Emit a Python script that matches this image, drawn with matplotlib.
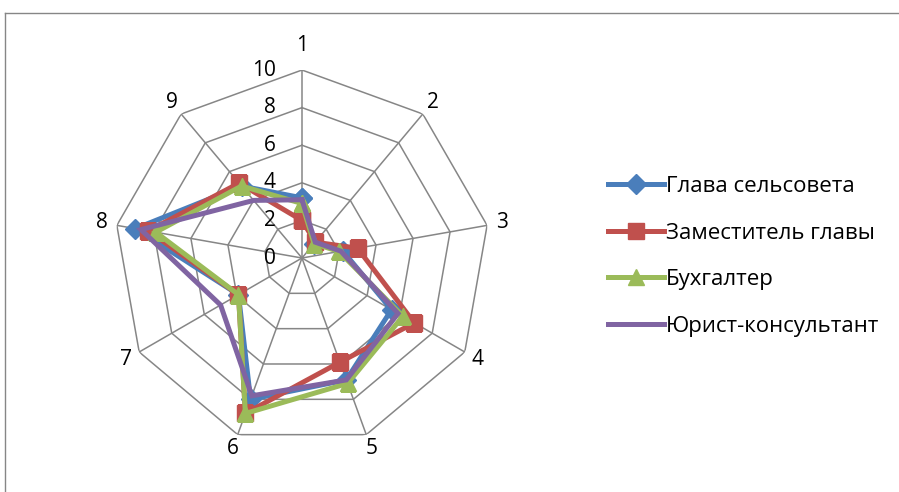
import numpy as np
import matplotlib.pyplot as plt
import matplotlib.transforms as mtransforms
from matplotlib.lines import Line2D

plt.rcParams['font.family'] = ['Open Sans', 'DejaVu Sans']

# оси диаграммы и значения по каждому сотруднику
axes_labels = ['1', '2', '3', '4', '5', '6', '7', '8', '9']
series_names = ['Глава сельсовета', 'Заместитель главы', 'Бухгалтер', 'Юрист-консультант']
glava = [3.2, 1.0, 2.2, 5.5, 6.9, 8.0, 3.9, 9.0, 5.0]
zam = [2.0, 1.1, 3.0, 6.9, 5.9, 8.8, 3.9, 8.3, 5.2]
buh = [2.9, 1.0, 2.0, 6.2, 7.1, 8.8, 3.9, 7.9, 5.0]
jurist = [3.1, 1.1, 2.1, 5.9, 6.9, 7.8, 5.0, 8.7, 4.0]
rticks = [0, 2, 4, 6, 8, 10]

colors = ['#4A7EBB', '#C0504D', '#9BBB59', '#8064A2']
markers = ['D', 's', '^', None]
msizes = [10, 12, 11, 0]

fig = plt.figure(figsize=(8.99, 4.92), dpi=100)
ax = fig.add_axes([0.1268, 0.0935, 0.4182, 0.7642], projection='polar')
ax.set_theta_zero_location('N')
ax.set_theta_direction(-1)
ax.set_ylim(0, 10)
ax.axis('off')

n = len(axes_labels)
theta = np.arange(n) * 2 * np.pi / n
closed = np.append(theta, theta[0])

# сетка: многоугольники и лучи
grid_c = '#868686'
for r in rticks[1:]:
    ax.plot(closed, [r] * (n + 1), color=grid_c, lw=1.1, zorder=1)
for t in theta:
    ax.plot([t, t], [0, 10], color=grid_c, lw=1.1, zorder=1)

# подписи осей
for t, lab in zip(theta, axes_labels):
    rr = 11.3 if lab == '1' else 10.8
    ax.text(t, rr, lab, ha='center', va='center', fontsize=15)

# подписи шкалы слева от первой оси
off = mtransforms.offset_copy(ax.transData, fig=fig, x=-26, y=0, units='dots')
for r in rticks:
    ax.text(0, r, str(r), transform=off, ha='right', va='center', fontsize=15)

data = [glava, zam, buh, jurist]
handles = []
for i, vals in enumerate(data):
    v = np.append(vals, vals[0])
    line, = ax.plot(closed, v, color=colors[i], lw=3.6, marker=markers[i],
                    markersize=msizes[i], zorder=3 + i, label=series_names[i],
                    solid_joinstyle='miter')
    handles.append(line)

fig.legend(handles=handles, loc='center left', bbox_to_anchor=(0.654, 0.479),
           frameon=False, fontsize=16, handlelength=2.5, handletextpad=0.1,
           labelspacing=1.15)

# рамка области диаграммы
fig.add_artist(Line2D([5 / 899, 898 / 899], [1 - 13 / 492, 1 - 13 / 492],
                      color=grid_c, lw=1))
fig.add_artist(Line2D([5 / 899, 5 / 899], [1 - 13 / 492, 0], color=grid_c, lw=1))

fig.savefig('out.png', dpi=100)
